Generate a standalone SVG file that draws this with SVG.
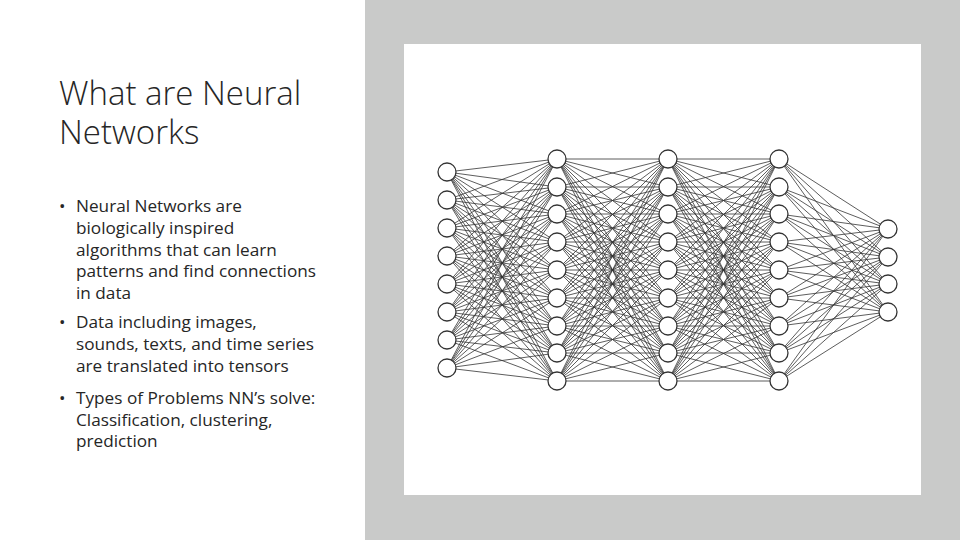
<svg xmlns="http://www.w3.org/2000/svg" width="960" height="540" viewBox="0 0 960 540">
<style>
.t{font-family:"Open Sans","Liberation Sans",sans-serif;fill:#262626}
.h{font-size:33px;font-weight:300}
.b{font-size:17.2px}
.e{stroke:#333;stroke-width:0.8;fill:none}
.n{fill:#fff;stroke:#333;stroke-width:1.3}
</style>
<rect width="960" height="540" fill="#fff"/>
<rect x="365" y="0" width="595" height="540" fill="#c9cac9"/>
<rect x="404" y="44" width="517" height="451" fill="#fff"/>
<g id="title" class="t h"><text x="59" y="105">What are Neural</text><text x="59" y="144">Networks</text></g>
<g id="bullets" class="t b">
<text x="59" y="212">•</text><text x="76" y="212">Neural Networks are</text>
<text x="76" y="234">biologically inspired</text>
<text x="76" y="256">algorithms that can learn</text>
<text x="76" y="277">patterns and find connections</text>
<text x="76" y="299">in data</text>
<text x="59" y="328">•</text><text x="76" y="328">Data including images,</text>
<text x="76" y="350">sounds, texts, and time series</text>
<text x="76" y="372">are translated into tensors</text>
<text x="59" y="404">•</text><text x="76" y="404">Types of Problems NN’s solve:</text>
<text x="76" y="426">Classification, clustering,</text>
<text x="76" y="447">prediction</text>
</g>
<g id="connectors" class="e">
<path d="M447 172L557 159M447 172L557 187M447 172L557 214M447 172L557 242M447 172L557 270M447 172L557 298M447 172L557 326M447 172L557 353M447 172L557 381
M447 200L557 159M447 200L557 187M447 200L557 214M447 200L557 242M447 200L557 270M447 200L557 298M447 200L557 326M447 200L557 353M447 200L557 381
M447 228L557 159M447 228L557 187M447 228L557 214M447 228L557 242M447 228L557 270M447 228L557 298M447 228L557 326M447 228L557 353M447 228L557 381
M447 256L557 159M447 256L557 187M447 256L557 214M447 256L557 242M447 256L557 270M447 256L557 298M447 256L557 326M447 256L557 353M447 256L557 381
M447 284L557 159M447 284L557 187M447 284L557 214M447 284L557 242M447 284L557 270M447 284L557 298M447 284L557 326M447 284L557 353M447 284L557 381
M447 312L557 159M447 312L557 187M447 312L557 214M447 312L557 242M447 312L557 270M447 312L557 298M447 312L557 326M447 312L557 353M447 312L557 381
M447 340L557 159M447 340L557 187M447 340L557 214M447 340L557 242M447 340L557 270M447 340L557 298M447 340L557 326M447 340L557 353M447 340L557 381
M447 368L557 159M447 368L557 187M447 368L557 214M447 368L557 242M447 368L557 270M447 368L557 298M447 368L557 326M447 368L557 353M447 368L557 381"/>
<path id="hh" d="M557 159L668 159M557 159L668 187M557 159L668 214M557 159L668 242M557 159L668 270M557 159L668 298M557 159L668 326M557 159L668 353M557 159L668 381
M557 187L668 159M557 187L668 187M557 187L668 214M557 187L668 242M557 187L668 270M557 187L668 298M557 187L668 326M557 187L668 353M557 187L668 381
M557 214L668 159M557 214L668 187M557 214L668 214M557 214L668 242M557 214L668 270M557 214L668 298M557 214L668 326M557 214L668 353M557 214L668 381
M557 242L668 159M557 242L668 187M557 242L668 214M557 242L668 242M557 242L668 270M557 242L668 298M557 242L668 326M557 242L668 353M557 242L668 381
M557 270L668 159M557 270L668 187M557 270L668 214M557 270L668 242M557 270L668 270M557 270L668 298M557 270L668 326M557 270L668 353M557 270L668 381
M557 298L668 159M557 298L668 187M557 298L668 214M557 298L668 242M557 298L668 270M557 298L668 298M557 298L668 326M557 298L668 353M557 298L668 381
M557 326L668 159M557 326L668 187M557 326L668 214M557 326L668 242M557 326L668 270M557 326L668 298M557 326L668 326M557 326L668 353M557 326L668 381
M557 353L668 159M557 353L668 187M557 353L668 214M557 353L668 242M557 353L668 270M557 353L668 298M557 353L668 326M557 353L668 353M557 353L668 381
M557 381L668 159M557 381L668 187M557 381L668 214M557 381L668 242M557 381L668 270M557 381L668 298M557 381L668 326M557 381L668 353M557 381L668 381"/>
<use href="#hh" transform="translate(111 0)"/>
<path d="M779 159L888 229M779 159L888 257M779 159L888 284M779 159L888 312
M779 187L888 229M779 187L888 257M779 187L888 284M779 187L888 312
M779 214L888 229M779 214L888 257M779 214L888 284M779 214L888 312
M779 242L888 229M779 242L888 257M779 242L888 284M779 242L888 312
M779 270L888 229M779 270L888 257M779 270L888 284M779 270L888 312
M779 298L888 229M779 298L888 257M779 298L888 284M779 298L888 312
M779 326L888 229M779 326L888 257M779 326L888 284M779 326L888 312
M779 353L888 229M779 353L888 257M779 353L888 284M779 353L888 312
M779 381L888 229M779 381L888 257M779 381L888 284M779 381L888 312"/>
</g>
<g id="input" class="n">
<circle cx="447" cy="172" r="9"/><circle cx="447" cy="200" r="9"/><circle cx="447" cy="228" r="9"/><circle cx="447" cy="256" r="9"/><circle cx="447" cy="284" r="9"/><circle cx="447" cy="312" r="9"/><circle cx="447" cy="340" r="9"/><circle cx="447" cy="368" r="9"/>
</g>
<g id="hidden1" class="n">
<circle cx="557" cy="159" r="9"/><circle cx="557" cy="187" r="9"/><circle cx="557" cy="214" r="9"/><circle cx="557" cy="242" r="9"/><circle cx="557" cy="270" r="9"/><circle cx="557" cy="298" r="9"/><circle cx="557" cy="326" r="9"/><circle cx="557" cy="353" r="9"/><circle cx="557" cy="381" r="9"/>
</g>
<g id="hidden2" class="n">
<circle cx="668" cy="159" r="9"/><circle cx="668" cy="187" r="9"/><circle cx="668" cy="214" r="9"/><circle cx="668" cy="242" r="9"/><circle cx="668" cy="270" r="9"/><circle cx="668" cy="298" r="9"/><circle cx="668" cy="326" r="9"/><circle cx="668" cy="353" r="9"/><circle cx="668" cy="381" r="9"/>
</g>
<g id="hidden3" class="n">
<circle cx="779" cy="159" r="9"/><circle cx="779" cy="187" r="9"/><circle cx="779" cy="214" r="9"/><circle cx="779" cy="242" r="9"/><circle cx="779" cy="270" r="9"/><circle cx="779" cy="298" r="9"/><circle cx="779" cy="326" r="9"/><circle cx="779" cy="353" r="9"/><circle cx="779" cy="381" r="9"/>
</g>
<g id="output" class="n">
<circle cx="888" cy="229" r="9"/><circle cx="888" cy="257" r="9"/><circle cx="888" cy="284" r="9"/><circle cx="888" cy="312" r="9"/>
</g>
</svg>
